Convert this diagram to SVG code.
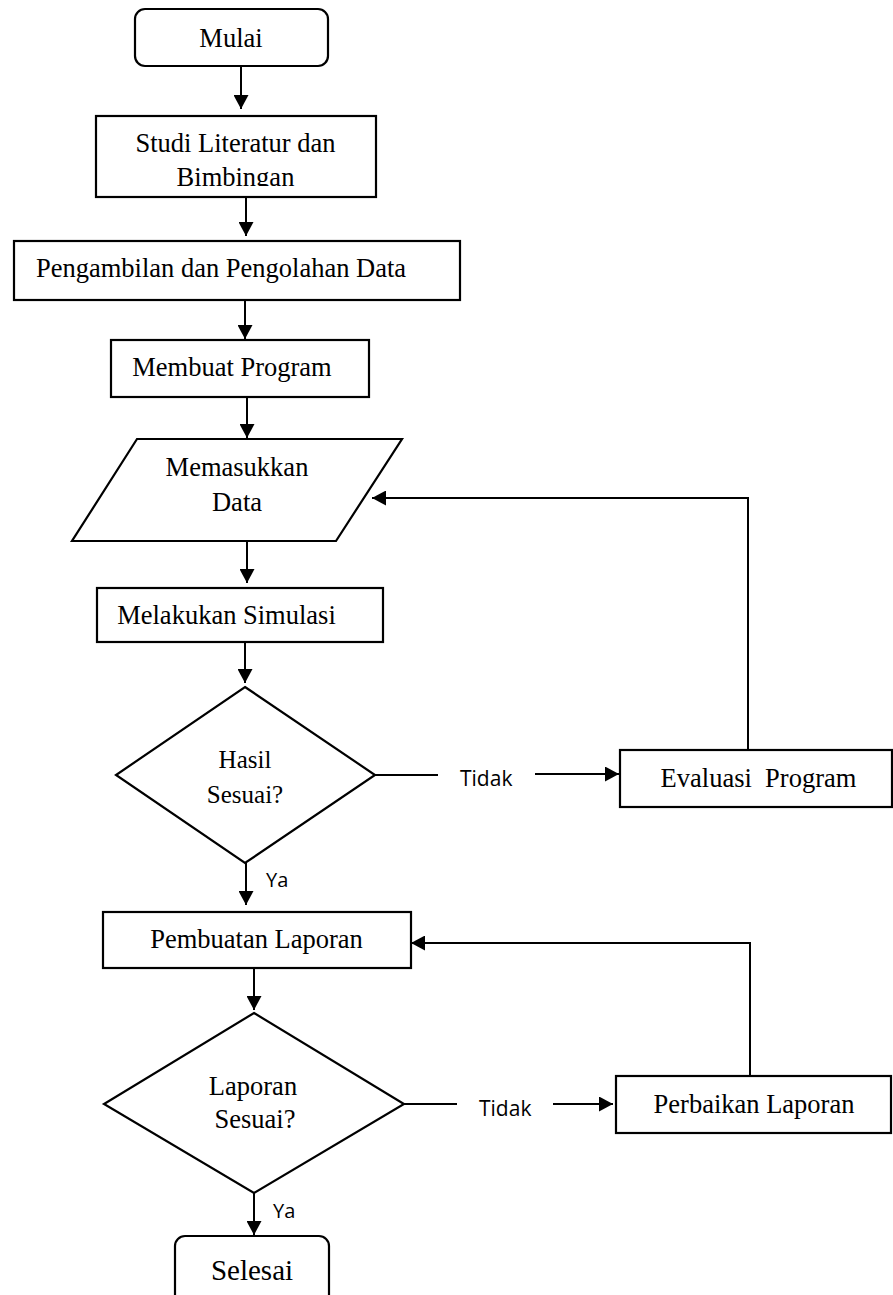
<svg xmlns="http://www.w3.org/2000/svg" width="893" height="1295" viewBox="0 0 893 1295">
<style>
.box{fill:#fff;stroke:#000;stroke-width:2.2}
.ln{fill:none;stroke:#000;stroke-width:2}
.t{font-family:"Liberation Serif","Times New Roman",serif;font-size:26.5px;fill:#000;text-anchor:middle}
.s{font-family:"Open Sans","Noto Sans",sans-serif;font-size:21px;fill:#000}
</style>
<defs>
<marker id="ah" markerUnits="userSpaceOnUse" markerWidth="15" markerHeight="15" refX="14" refY="7.5" orient="auto">
<path d="M0,0 L14,7.5 L0,15 z" fill="#000"/>
</marker>
<clipPath id="clipStudi"><rect x="96" y="116" width="280" height="70"/></clipPath>
<clipPath id="clipTidak1"><rect x="440" y="770" width="100" height="30"/></clipPath>
</defs>
<rect width="893" height="1295" fill="#fff"/>

<g id="connectors">
<line class="ln" x1="241" y1="66" x2="241" y2="109" marker-end="url(#ah)"/>
<line class="ln" x1="246" y1="197" x2="246" y2="236" marker-end="url(#ah)"/>
<line class="ln" x1="245" y1="300" x2="245" y2="339" marker-end="url(#ah)"/>
<line class="ln" x1="247" y1="397" x2="247" y2="438" marker-end="url(#ah)"/>
<line class="ln" x1="247" y1="541" x2="247" y2="583" marker-end="url(#ah)"/>
<line class="ln" x1="245" y1="642" x2="245" y2="683" marker-end="url(#ah)"/>
<line class="ln" x1="246" y1="863" x2="246" y2="905" marker-end="url(#ah)"/>
<line class="ln" x1="254" y1="968" x2="254" y2="1010" marker-end="url(#ah)"/>
<line class="ln" x1="254" y1="1193" x2="254" y2="1235" marker-end="url(#ah)"/>
<line class="ln" x1="375" y1="775" x2="438" y2="775"/>
<line class="ln" x1="535" y1="774" x2="619" y2="774" marker-end="url(#ah)"/>
<polyline class="ln" points="748,750 748,498 372,498" marker-end="url(#ah)"/>
<line class="ln" x1="404" y1="1104" x2="457" y2="1104"/>
<line class="ln" x1="553" y1="1104" x2="613" y2="1104" marker-end="url(#ah)"/>
<polyline class="ln" points="750,1076 750,943 411,943" marker-end="url(#ah)"/>
<text class="s" x="460" y="786" clip-path="url(#clipTidak1)">Tidak</text>
<text class="s" x="479" y="1116">Tidak</text>
<text class="s" x="266" y="887" style="font-size:20px">Ya</text>
<text class="s" x="273" y="1218" style="font-size:20px">Ya</text>
</g>

<g id="mulai">
<rect class="box" x="135" y="9" width="193" height="57" rx="10"/>
<text class="t" x="231" y="47">Mulai</text>
</g>
<g id="studi">
<rect class="box" x="96" y="116" width="280" height="81"/>
<text class="t" x="235.5" y="152">Studi Literatur dan</text>
<text class="t" x="235.5" y="186" clip-path="url(#clipStudi)">Bimbingan</text>
</g>
<g id="pengambilan">
<rect class="box" x="14" y="241" width="446" height="59"/>
<text class="t" x="221" y="277">Pengambilan dan Pengolahan Data</text>
</g>
<g id="membuat">
<rect class="box" x="111" y="340" width="258" height="57"/>
<text class="t" x="232" y="376">Membuat Program</text>
</g>
<g id="memasukkan">
<polygon class="box" points="137,439 402,439 336,541 72,541"/>
<text class="t" x="237" y="476">Memasukkan</text>
<text class="t" x="237" y="511">Data</text>
</g>
<g id="simulasi">
<rect class="box" x="97" y="588" width="286" height="54"/>
<text class="t" x="226.5" y="624">Melakukan Simulasi</text>
</g>
<g id="hasil">
<polygon class="box" points="245,687 375,775 245,863 116,775"/>
<text class="t" x="245" y="768" style="font-size:25px">Hasil</text>
<text class="t" x="245" y="803" style="font-size:25px">Sesuai?</text>
</g>
<g id="evaluasi">
<rect class="box" x="620" y="750" width="272" height="57"/>
<text class="t" x="758.5" y="787" xml:space="preserve">Evaluasi  Program</text>
</g>
<g id="pembuatan">
<rect class="box" x="103" y="912" width="308" height="56"/>
<text class="t" x="256.5" y="948">Pembuatan Laporan</text>
</g>
<g id="laporan">
<polygon class="box" points="254,1013 404,1104 254,1193 104,1104"/>
<text class="t" x="253" y="1095">Laporan</text>
<text class="t" x="255" y="1128">Sesuai?</text>
</g>
<g id="perbaikan">
<rect class="box" x="616" y="1076" width="275" height="57"/>
<text class="t" x="754" y="1113">Perbaikan Laporan</text>
</g>
<g id="selesai">
<rect class="box" x="175" y="1236" width="154" height="80" rx="10"/>
<text class="t" x="252" y="1280" style="font-size:29px">Selesai</text>
</g>
</svg>
